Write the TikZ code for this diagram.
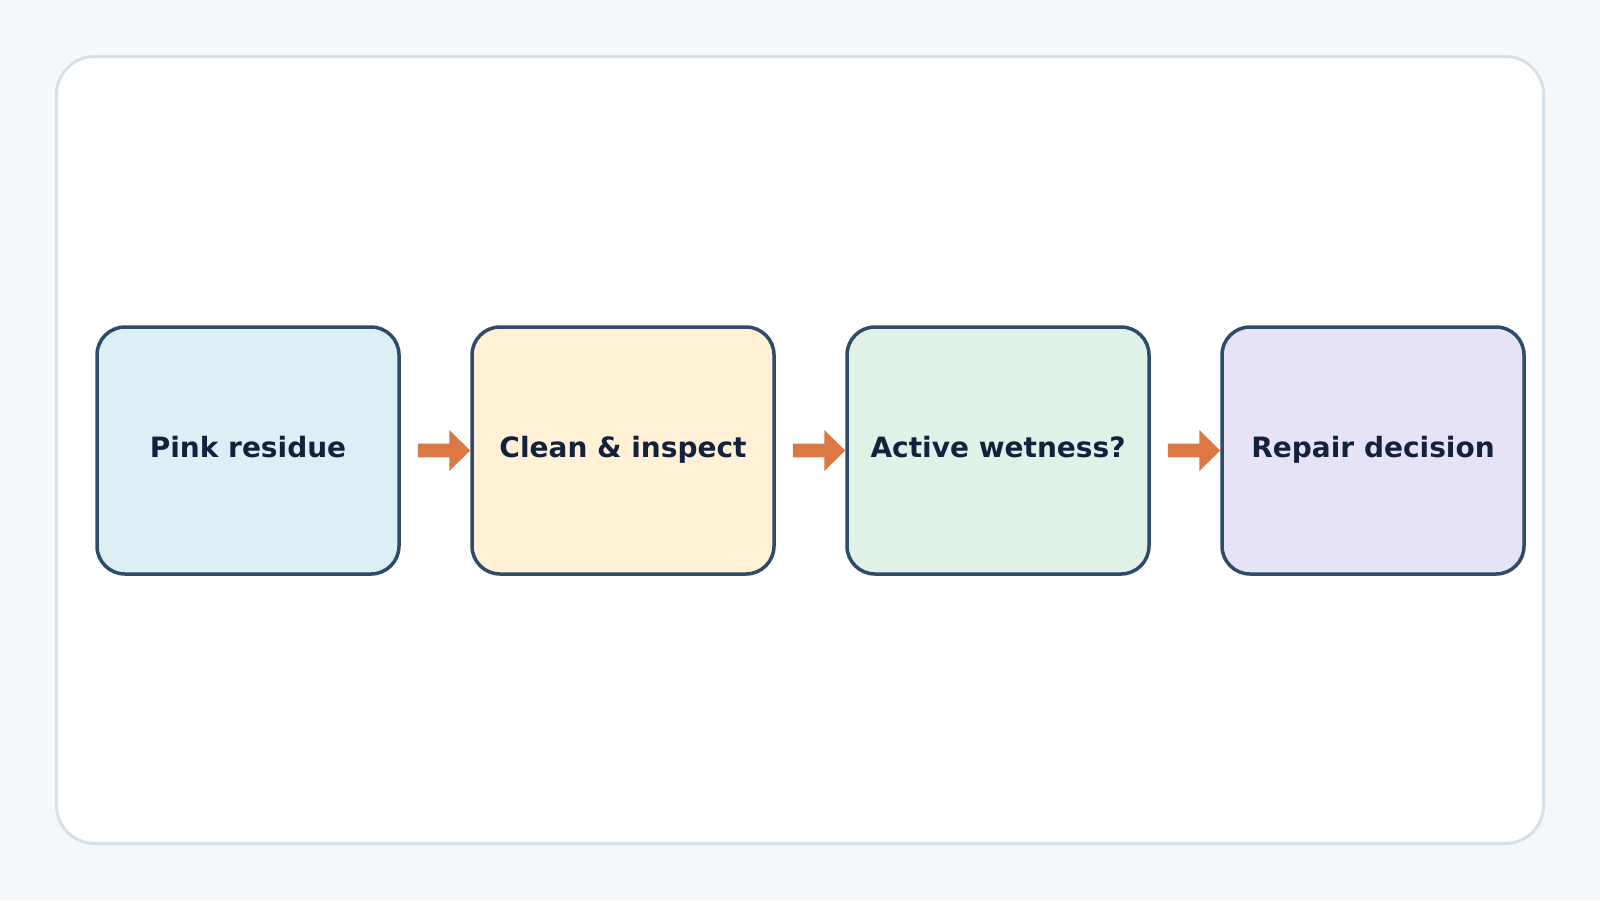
\documentclass[tikz,border=0pt]{standalone}
\usepackage{fontspec}
\setmainfont{DejaVu Sans}
\usetikzlibrary{calc}
\definecolor{bgc}{HTML}{F4F8FB}
\definecolor{panelc}{HTML}{D5E0E9}
\definecolor{edgec}{HTML}{2F4B6A}
\definecolor{txtc}{HTML}{14213D}
\definecolor{arrc}{HTML}{DB7843}
\definecolor{fa}{HTML}{DCEFF5}
\definecolor{fb}{HTML}{FFF0D6}
\definecolor{fc}{HTML}{E0F1E7}
\definecolor{fd}{HTML}{E6E3F6}
\tikzset{
  stepbox/.style={draw=edgec, line width=3.5pt, rounded corners=28pt,
    minimum width=302pt, minimum height=247pt, inner sep=0pt},
  lbl/.style={anchor=base, text=txtc, font=\fontsize{28}{33}\selectfont\bfseries, inner sep=0pt},
  flowarrow/.style={fill=arrc, draw=none}
}
\newcommand{\flowarr}[2]{%
  \fill[flowarrow] ($(#1.east)+(17,-6.85)$) -- ($(#2.west)+(-21,-6.85)$)
    -- ($(#2.west)+(-21,-20.5)$) -- ($(#2.west)+(0,0)$)
    -- ($(#2.west)+(-21,20.5)$) -- ($(#2.west)+(-21,6.85)$)
    -- ($(#1.east)+(17,6.85)$) -- cycle;}
\begin{document}
\begin{tikzpicture}[x=1pt,y=-1pt]
\fill[bgc] (0,0) rectangle (1600,900);
\useasboundingbox (0,0) rectangle (1600,900);
\draw[panelc, fill=white, line width=3pt, rounded corners=38pt] (56.5,56.5) rectangle (1543.5,843.5);
\node[stepbox, fill=fa] (b1) at (248,450.5) {};
\node[stepbox, fill=fb] (b2) at (623,450.5) {};
\node[stepbox, fill=fc] (b3) at (998,450.5) {};
\node[stepbox, fill=fd] (b4) at (1373,450.5) {};
\node[lbl] (t1) at (248,457) {Pink residue};
\node[lbl] (t2) at (623,457) {Clean \& inspect};
\node[lbl] (t3) at (998,457) {Active wetness?};
\node[lbl] (t4) at (1373,457) {Repair decision};
\flowarr{b1}{b2}
\flowarr{b2}{b3}
\flowarr{b3}{b4}
\end{tikzpicture}
\end{document}
